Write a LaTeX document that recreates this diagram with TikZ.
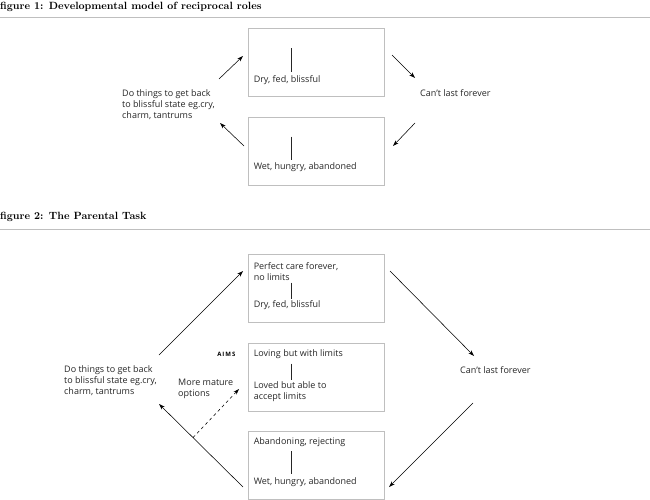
\documentclass[tikz,border=0pt]{standalone}
\usepackage{fontspec}
\setsansfont{Open Sans}
\usetikzlibrary{arrows.meta,positioning,calc}
\tikzset{
  basic/.style  = {font=\sffamily\fontsize{9}{11}\selectfont, inner sep=0pt,
  text=black!85},
  rolebox/.style = {draw=gray!50, line width=0.9pt, minimum width=136pt,
  minimum height=68pt, inner sep=0pt},
  role/.style   = {basic, align=left, anchor=west},
  aims/.style   = {font=\sffamily\bfseries\fontsize{6}{7}\selectfont,
  inner sep=0pt, anchor=east},
  heading/.style = {font=\bfseries\fontsize{10.5}{12}\selectfont, inner sep=0pt,
  anchor=west},
  hrule/.style  = {draw=gray!50, line width=0.9pt},
  flow/.style   = {-{Stealth[length=6pt,width=4pt]}, line width=0.55pt},
  link/.style   = {draw=black!85, line width=0.5pt}
}

\begin{document}
\begin{tikzpicture}[x=1pt, y=-1pt]
\useasboundingbox (0,0) rectangle (650,500);

% figure 1: heading and rule
\node[heading] (head1) at (0,7) {figure 1: Developmental model of reciprocal roles};
\coordinate (rule1a) at (0,17);
\coordinate (rule1b) at (650,17);
\draw[hrule] (rule1a) -- (rule1b);

% figure 1: the two roles
\node[rolebox] (b11) at (316,62.5) {};
\node[rolebox] (b12) at (316,151) {};
\node[role] (b11low) at ($(b11.north west)+(6,52)$) {Dry, fed, blissful};
\node[role] (b12low) at ($(b12.north west)+(6,51)$) {Wet, hungry, abandoned};

% figure 1: side texts
\node[role] (back1) at (122,104.5) {Do things to get back\\to blissful state eg.cry,\\charm, tantrums};
\node[role] (last1) at (420,93) {Can’t last forever};

% figure 1: arrows round the cycle
\coordinate (a1s) at (219,79);  \coordinate (a1e) at (243,56);
\coordinate (a2s) at (392,55);  \coordinate (a2e) at (415,78);
\coordinate (a3s) at (415,123); \coordinate (a3e) at (393,146);
\coordinate (a4s) at (244,146); \coordinate (a4e) at (220,123);
\foreach \value in {1,...,4}
\draw[flow] (a\value s) -- (a\value e);

% figure 2: heading and rule
\node[heading] (head2) at (0,217) {figure 2: The Parental Task};
\coordinate (rule2a) at (0,229);
\coordinate (rule2b) at (650,229);
\draw[hrule] (rule2a) -- (rule2b);

% figure 2: the three roles
\node[rolebox] (b21) at (316,288) {};
\node[rolebox] (b22) at (316,377) {};
\node[rolebox] (b23) at (316,465.5) {};
\node[role] (b21up)  at ($(b21.north west)+(6,18)$) {Perfect care forever,\\no limits};
\node[role] (b21low) at ($(b21.north west)+(6,52)$) {Dry, fed, blissful};
\node[role] (b22up)  at ($(b22.north west)+(6,12)$) {Loving but with limits};
\node[role] (b22low) at ($(b22.north west)+(6,49.5)$) {Loved but able to\\accept limits};
\node[role] (b23up)  at ($(b23.north west)+(6,11)$) {Abandoning, rejecting};
\node[role] (b23low) at ($(b23.north west)+(6,51)$) {Wet, hungry, abandoned};
\node[aims] (aims) at ($(b22.north west)+(-12,12)$) {A\,I\,M\,S};

% figure 2: side texts
\node[role] (back2) at (64,381) {Do things to get back\\to blissful state eg.cry,\\charm, tantrums};
\node[role] (mature) at (178,388.5) {More mature\\options};
\node[role] (last2) at (460,370) {Can’t last forever};

% figure 2: arrows round the cycle
\coordinate (c1s) at (159,355); \coordinate (c1e) at (243,271);
\coordinate (c2s) at (390,271); \coordinate (c2e) at (474,356);
\coordinate (c3s) at (473,403); \coordinate (c3e) at (389,487);
\coordinate (c4s) at (243,487); \coordinate (c4e) at (159,404);
\foreach \value in {1,...,4}
\draw[flow] (c\value s) -- (c\value e);
\coordinate (matures) at ($(c4s)!0.595!(c4e)$);
\coordinate (maturee) at (239,389);
\draw[flow, dashed] (matures) -- (maturee);

% lines inside each box
\foreach \rolename/\ya/\yb in {b11/20/44, b12/20/43, b21/29/45, b22/21/37, b23/20/43}
\draw[link] ($(\rolename.north west)+(44,\ya)$) -- ($(\rolename.north west)+(44,\yb)$);
\end{tikzpicture}
\end{document}
